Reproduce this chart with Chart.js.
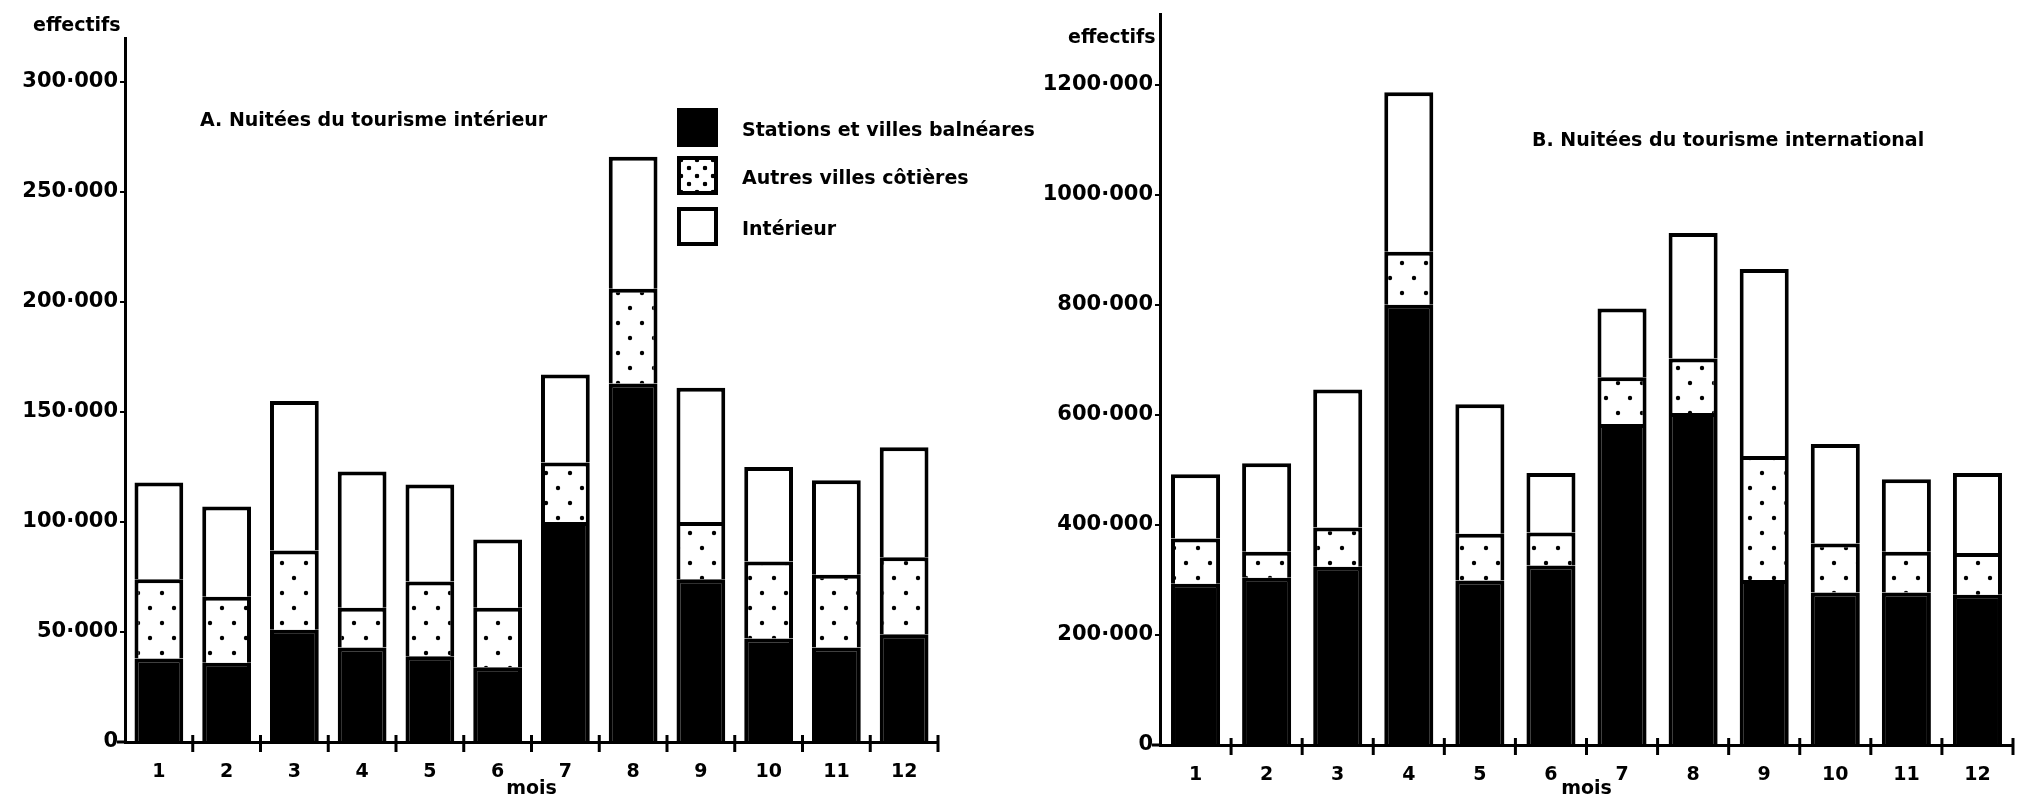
<!DOCTYPE html>
<html lang="fr">
<head>
<meta charset="utf-8">
<script src="https://cdn.jsdelivr.net/npm/chart.js@4.4.1/dist/chart.umd.min.js"></script>
<style>
  body { margin: 0; background: #fff; width: 2017px; height: 800px; overflow: hidden; position: relative;
         font-family: "DejaVu Sans", sans-serif; font-weight: bold; color: #000; }
  canvas { position: absolute; top: 0; }
  #chartA { left: 0; }
  #chartB { left: 1000px; }
  .txt { position: absolute; white-space: nowrap; line-height: 1; }
  .legende { position: absolute; left: 677px; top: 108px; }
  .item { position: absolute; left: 0; height: 40px; }
  .box { position: absolute; left: 0; top: 0; width: 41px; height: 39px; box-sizing: border-box; border: 4px solid #000; background: #fff; }
  .label { position: absolute; left: 65px; top: 10px; font-size: 19px; white-space: nowrap; }
</style>
</head>
<body>
<canvas id="chartA" width="1000" height="800"></canvas>
<canvas id="chartB" width="1017" height="800"></canvas>

<div class="txt" style="left:33px; top:15px; font-size:19px;">effectifs</div>
<div class="txt" style="left:1068px; top:27px; font-size:19px;">effectifs</div>
<div class="txt" id="titreA" style="left:200px; top:110px; font-size:19px;"></div>
<div class="txt" id="titreB" style="left:1532px; top:130px; font-size:19px;"></div>
<div class="legende" id="legende"></div>

<script>
// mois
const mois = ['1', '2', '3', '4', '5', '6', '7', '8', '9', '10', '11', '12'];
const series = ['Stations et villes balnéares', 'Autres villes côtières', 'Intérieur'];
const titres = ['A. Nuitées du tourisme intérieur', 'B. Nuitées du tourisme international'];

// A. tourisme intérieur (nuitées)
const stationsA = [38000, 36000, 51000, 43000, 39000, 34000, 100000, 163000, 74000, 47000, 43000, 49000];
const autresA = [36000, 30000, 36000, 18000, 34000, 27000, 27000, 43000, 26000, 35000, 33000, 35000];
const interieurA = [44000, 41000, 68000, 62000, 44000, 31000, 40000, 60000, 61000, 43000, 43000, 50000];
const ticksA = [0, 50000, 100000, 150000, 200000, 250000, 300000];

// B. tourisme international (nuitées)
const stationsB = [293000, 304000, 324000, 800000, 299000, 326000, 583000, 603000, 300000, 277000, 277000, 273000];
const autresB = [82000, 47000, 71000, 96000, 85000, 60000, 85000, 99000, 225000, 89000, 74000, 76000];
const interieurB = [117000, 161000, 251000, 290000, 235000, 108000, 125000, 228000, 340000, 181000, 132000, 145000];
const ticksB = [0, 200000, 400000, 600000, 800000, 1000000, 1200000];

document.getElementById('titreA').textContent = titres[0];
document.getElementById('titreB').textContent = titres[1];

// legende en html
const legende = document.getElementById('legende');
const decalages = [0, 48, 99];
series.forEach((nom, i) => {
    const fond = i === 0 ? 'background:#000;' :
        i === 1 ? 'background-image:radial-gradient(circle, #000 2px, transparent 2.6px), radial-gradient(circle, #000 2px, transparent 2.6px); background-size:16px 16px; background-position:0 0, 8px 8px;' : '';
    legende.innerHTML += `
        <div class="item" style="top:${decalages[i]}px">
            <div class="box" style="${fond}"></div>
            <div class="label">${nom}</div>
        </div>`;
});

// motif pointillé pour "Autres villes côtières"
function motifPoints(ctx) {
    const c = document.createElement('canvas');
    c.width = 24; c.height = 30;
    const g = c.getContext('2d');
    g.fillStyle = '#fff';
    g.fillRect(0, 0, 24, 30);
    g.fillStyle = '#000';
    [[6, 8], [18, 23]].forEach(([x, y]) => {
        g.beginPath();
        g.arc(x, y, 2.2, 0, Math.PI * 2);
        g.fill();
    });
    return ctx.createPattern(c, 'repeat');
}

// petites croix sur l'axe des mois
const croix = {
    id: 'croix',
    afterDraw(chart) {
        const { ctx, chartArea } = chart;
        const pas = (chartArea.right - chartArea.left) / mois.length;
        ctx.save();
        ctx.strokeStyle = '#000';
        ctx.lineWidth = 3;
        for (let i = 1; i <= mois.length; i++) {
            const x = chartArea.left + i * pas;
            ctx.beginPath();
            ctx.moveTo(x, chartArea.bottom - 7);
            ctx.lineTo(x, chartArea.bottom + 10);
            ctx.stroke();
        }
        ctx.beginPath();
        ctx.moveTo(chartArea.left - 8, chartArea.bottom);
        ctx.lineTo(chartArea.left, chartArea.bottom);
        ctx.stroke();
        ctx.restore();
    }
};

function formatEffectif(v) {
    return v === 0 ? '0' : (v / 1000) + '·000';
}

function dessiner(id, stations, autres, interieur, ticks, yMax, padding, largeurY, hauteurX, barPct) {
    const canvas = document.getElementById(id);
    const ctx = canvas.getContext('2d');
    const commun = { borderColor: '#000', borderWidth: 4, barPercentage: barPct, categoryPercentage: 1 };
    return new Chart(ctx, {
        type: 'bar',
        data: {
            labels: mois,
            datasets: [
                { label: series[0], data: stations, backgroundColor: '#000', ...commun },
                { label: series[1], data: autres, backgroundColor: motifPoints(ctx), ...commun },
                { label: series[2], data: interieur, backgroundColor: '#fff', ...commun }
            ]
        },
        options: {
            responsive: false,
            animation: false,
            layout: { padding: padding },
            plugins: { legend: { display: false }, tooltip: { enabled: false } },
            scales: {
                x: {
                    stacked: true,
                    grid: { display: false },
                    border: { display: true, color: '#000', width: 3 },
                    ticks: { color: '#000', padding: 11, font: { family: 'DejaVu Sans', size: 19, weight: 'bold' } },
                    title: { display: true, text: 'mois', color: '#000', padding: 0, font: { family: 'DejaVu Sans', size: 19, weight: 'bold' } },
                    afterFit: s => { s.height = hauteurX; }
                },
                y: {
                    stacked: true,
                    min: 0,
                    max: yMax,
                    afterBuildTicks: s => { s.ticks = ticks.map(v => ({ value: v })); },
                    grid: { drawOnChartArea: false, drawTicks: true, tickLength: 5, color: '#000', lineWidth: 2 },
                    border: { display: true, color: '#000', width: 3 },
                    ticks: { color: '#000', padding: 2, callback: v => formatEffectif(v), font: { family: 'DejaVu Sans', size: 21, weight: 'bold' } },
                    afterFit: s => { s.width = largeurY; }
                }
            }
        },
        plugins: [croix]
    });
}

dessiner('chartA', stationsA, autresA, interieurA, ticksA, 320000,
    { left: 0, right: 62, top: 38, bottom: 0 }, 125, 58, 0.72);
dessiner('chartB', stationsB, autresB, interieurB, ticksB, 1327000,
    { left: 0, right: 4, top: 12, bottom: 0 }, 160, 55, 0.69);
</script>
</body>
</html>
